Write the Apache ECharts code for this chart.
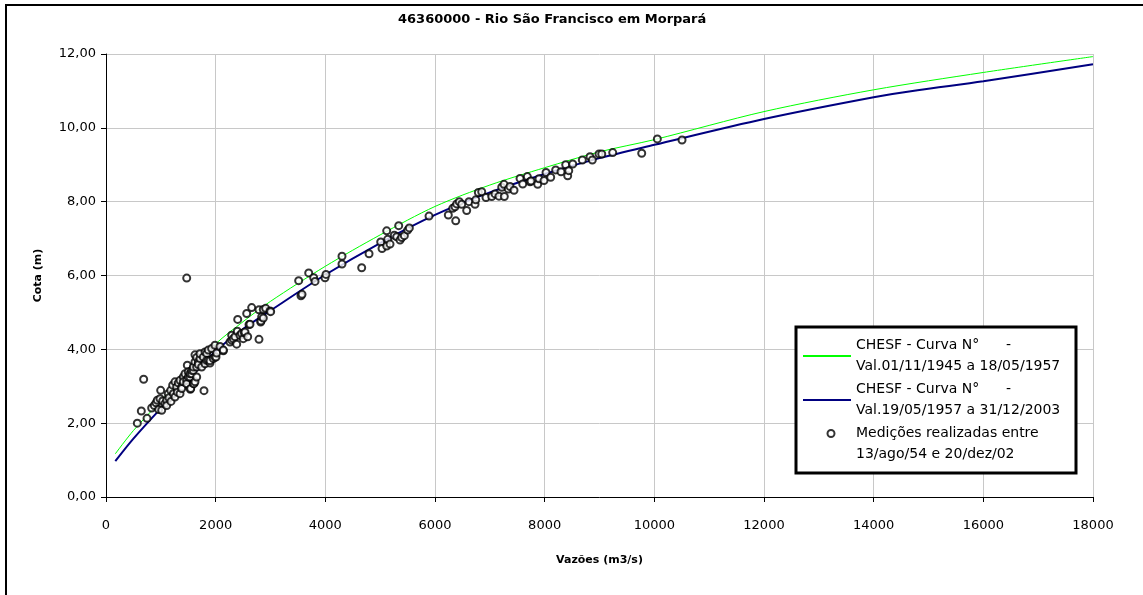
<!DOCTYPE html>
<html>
<head>
<meta charset="utf-8">
<title>46360000 - Rio São Francisco em Morpará</title>
<script src="https://cdn.jsdelivr.net/npm/echarts@6/dist/echarts.min.js"></script>
<style>
  html, body { margin: 0; padding: 0; background: #fff; }
  #chart { width: 1143px; height: 595px; }
</style>
</head>
<body>
<div id="chart"></div>
<script>
// curva-chave 1945-1957 (verde)
var curve1Q = [170, 500, 1000, 1500, 2000, 2500, 3000, 4000, 5000, 6000, 7000, 8000, 9000, 10000, 12000, 14000, 16000, 18000]
var curve1H = [1.17, 1.8, 2.6, 3.38, 4.15, 4.75, 5.3, 6.25, 7.1, 7.87, 8.45, 8.92, 9.35, 9.68, 10.44, 11.03, 11.5, 11.93]
// curva-chave 1957-2003 (azul)
var curve2Q = [170, 500, 1000, 1500, 2000, 2500, 3000, 4000, 5000, 6000, 7000, 8000, 9000, 10000, 12000, 14000, 14800, 16000, 18000]
var curve2H = [0.97, 1.58, 2.4, 3.18, 3.95, 4.55, 5.05, 6.02, 6.88, 7.64, 8.25, 8.75, 9.18, 9.54, 10.24, 10.83, 11.02, 11.26, 11.72]
// medições de descarga
var measQ = [571, 644, 687, 748, 833, 881, 912, 936, 961, 985, 997, 1016, 1034, 1076, 1107, 1107, 1136, 1149, 1180, 1185,
  1216, 1228, 1258, 1258, 1289, 1301, 1319, 1350, 1350, 1381, 1381, 1410, 1410, 1441, 1471, 1471, 1472, 1483, 1501, 1501,
  1532, 1532, 1538, 1545, 1562, 1562, 1593, 1593, 1593, 1605, 1623, 1623, 1623, 1654, 1654, 1654, 1684, 1684, 1714, 1714,
  1745, 1775, 1787, 1806, 1806, 1836, 1836, 1866, 1865, 1897, 1897, 1927, 1957, 1988, 1988, 2006, 2018, 2079, 2140, 2140,
  2261, 2292, 2292, 2322, 2353, 2383, 2395, 2402, 2444, 2474, 2504, 2523, 2535, 2566, 2584, 2608, 2626, 2657, 2790, 2790,
  2821, 2827, 2839, 2869, 2869, 2912, 2991, 3003, 3514, 3556, 3575, 3697, 3788, 3812, 3994, 4012, 4304, 4304, 4663, 4797,
  5010, 5034, 5119, 5137, 5119, 5180, 5258, 5338, 5302, 5362, 5393, 5441, 5502, 5532, 5891, 6243, 6378, 6323, 6365, 6396,
  6443, 6487, 6578, 6620, 6730, 6743, 6791, 6852, 6930, 7034, 7095, 7167, 7264, 7217, 7259, 7337, 7368, 7441, 7551, 7600,
  7684, 7733, 7751, 7873, 7897, 7988, 8025, 8110, 8201, 8298, 8384, 8420, 8439, 8512, 8687, 8827, 8869, 8991, 9041, 9241,
  9770, 10055, 10505]
var measH = [2.00, 2.33, 3.19, 2.13, 2.41, 2.48, 2.55, 2.62, 2.37, 2.66, 2.89, 2.35, 2.60, 2.53, 2.62, 2.48, 2.80, 2.69, 2.89, 2.59,
  3.03, 2.80, 3.12, 2.71, 2.98, 2.84, 3.09, 3.16, 2.80, 2.98, 2.94, 3.25, 3.12, 3.34, 3.16, 3.07, 5.93, 3.57, 3.39, 3.25,
  3.25, 3.34, 2.92, 2.94, 3.34, 3.43, 3.43, 3.07, 3.52, 3.07, 3.12, 3.66, 3.85, 3.52, 3.25, 3.78, 3.66, 3.59, 3.75, 3.88,
  3.52, 3.79, 2.88, 3.61, 3.93, 3.89, 3.70, 3.70, 3.98, 3.63, 3.69, 4.02, 3.75, 3.79, 4.11, 3.79, 3.90, 4.08, 3.96, 3.98,
  4.20, 4.25, 4.38, 4.29, 4.34, 4.14, 4.49, 4.81, 4.38, 4.43, 4.29, 4.45, 4.47, 4.97, 4.34, 4.67, 4.68, 5.13, 4.27, 5.07,
  4.74, 4.77, 4.88, 4.85, 5.08, 5.11, 5.04, 5.02, 5.86, 5.45, 5.49, 6.07, 5.94, 5.84, 5.94, 6.03, 6.52, 6.31, 6.21, 6.59,
  6.91, 6.73, 7.21, 6.98, 6.80, 6.85, 7.09, 7.35, 7.05, 6.96, 7.03, 7.08, 7.23, 7.29, 7.61, 7.64, 7.48, 7.82, 7.86, 7.94,
  8.00, 7.93, 7.76, 8.00, 7.93, 8.05, 8.25, 8.27, 8.11, 8.14, 8.21, 8.15, 8.14, 8.39, 8.47, 8.34, 8.41, 8.31, 8.63, 8.48,
  8.68, 8.54, 8.56, 8.47, 8.62, 8.57, 8.79, 8.66, 8.86, 8.81, 9.00, 8.70, 8.84, 9.02, 9.13, 9.22, 9.13, 9.29, 9.29, 9.33,
  9.31, 9.70, 9.67]

var name1 = 'CHESF - Curva N°      -\nVal.01/11/1945 a 18/05/1957'
var name2 = 'CHESF - Curva N°      -\nVal.19/05/1957 a 31/12/2003'
var name3 = 'Medições realizadas entre\n13/ago/54 e 20/dez/02'

function zip(a, b) {
  return a.map(function (v, i) { return [v, b[i]] })
}

var font = 'DejaVu Sans'
var chart = echarts.init(document.getElementById('chart'))

var option = {
  backgroundColor: '#fff',
  animation: false,
  title: {
    text: '46360000 - Rio São Francisco em Morpará',
    left: 398,
    top: 13,
    padding: 0,
    textStyle: { fontFamily: font, fontSize: 13, fontWeight: 'bold', color: '#000' }
  },
  graphic: [{
    // moldura externa (cortada à direita e embaixo)
    type: 'rect',
    shape: { x: 6, y: 5, width: 1300, height: 800 },
    style: { fill: 'none', stroke: '#000', lineWidth: 2 },
    silent: true
  }, {
    // caixa da legenda
    type: 'rect',
    z: 3,
    shape: { x: 796, y: 327, width: 280, height: 146 },
    style: { fill: '#fff', stroke: '#000', lineWidth: 3 },
    silent: true
  }],
  legend: [{
    orient: 'vertical',
    left: 802,
    top: 335,
    padding: 0,
    itemWidth: 48,
    itemHeight: 14,
    itemGap: 2,
    data: [name1, name2],
    selectedMode: false,
    itemStyle: { opacity: 0 },
    textStyle: { fontFamily: font, fontSize: 14, lineHeight: 21, color: '#000' }
  }, {
    orient: 'vertical',
    left: 826.5,
    top: 402,
    padding: 0,
    itemWidth: 40,
    itemHeight: 7,
    data: [{ name: name3, icon: 'emptyCircle' }],
    selectedMode: false,
    // linha vazia no topo para alinhar o marcador com a 1a linha do texto
    formatter: function (n) { return ' \n' + n },
    textStyle: { fontFamily: font, fontSize: 14, lineHeight: 21, color: '#000' }
  }],
  grid: {
    left: 106,
    right: 50,
    top: 54,
    bottom: 98,
    containLabel: false
  },
  xAxis: {
    type: 'value',
    min: 0,
    max: 18000,
    interval: 2000,
    name: 'Vazões (m3/s)',
    nameLocation: 'middle',
    nameGap: 58,
    nameTextStyle: { fontFamily: font, fontSize: 11, fontWeight: 'bold', color: '#000' },
    axisLine: { show: true, onZero: false, lineStyle: { color: '#000', width: 1 } },
    axisTick: { show: true, length: 5, lineStyle: { color: '#000' } },
    axisLabel: {
      fontFamily: font, fontSize: 13, color: '#000', margin: 22,
      formatter: function (v) { return String(v) }
    },
    splitLine: { show: true, lineStyle: { color: '#c8c8c8', width: 1 } }
  },
  yAxis: {
    type: 'value',
    min: 0,
    max: 12,
    interval: 2,
    name: 'Cota (m)',
    nameLocation: 'middle',
    nameGap: 62,
    nameTextStyle: { fontFamily: font, fontSize: 11, fontWeight: 'bold', color: '#000' },
    axisLine: { show: true, onZero: false, lineStyle: { color: '#000', width: 1 } },
    axisTick: { show: true, length: 5, lineStyle: { color: '#000' } },
    axisLabel: {
      fontFamily: font, fontSize: 13, color: '#000', margin: 10,
      formatter: function (v) { return v.toFixed(2).replace('.', ',') }
    },
    splitLine: { show: true, lineStyle: { color: '#c8c8c8', width: 1 } }
  },
  series: [{
    name: name1,
    type: 'line',
    data: zip(curve1Q, curve1H),
    smooth: 0.3,
    symbol: 'none',
    z: 3,
    itemStyle: { color: '#00ff00' },
    lineStyle: { color: '#00ff00', width: 1 }
  }, {
    name: name2,
    type: 'line',
    data: zip(curve2Q, curve2H),
    smooth: 0.3,
    symbol: 'none',
    z: 3,
    itemStyle: { color: '#000080' },
    lineStyle: { color: '#000080', width: 2 }
  }, {
    name: name3,
    type: 'scatter',
    data: zip(measQ, measH),
    symbol: 'emptyCircle',
    symbolSize: 7,
    z: 4,
    itemStyle: { color: '#000', borderColor: '#000', borderWidth: 2 }
  }]
}

chart.setOption(option)
</script>
</body>
</html>
